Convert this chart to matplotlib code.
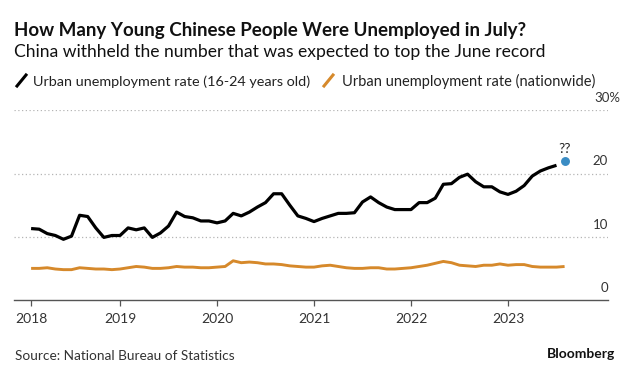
import matplotlib
matplotlib.use("Agg")
import matplotlib.pyplot as plt
from matplotlib.lines import Line2D

# ---- data (monthly) ----
youth_2018 = [11.3, 11.2, 10.5, 10.2, 9.6, 10.1, 13.4, 13.2, 11.4, 9.9, 10.2, 10.2]
youth_2019 = [11.4, 11.1, 11.4, 9.9, 10.6, 11.7, 13.9, 13.2, 13.0, 12.5, 12.5, 12.2]
youth_2020 = [12.5, 13.7, 13.3, 13.9, 14.7, 15.4, 16.8, 16.8, 15.0, 13.3, 12.9, 12.4]
youth_2021 = [12.9, 13.3, 13.7, 13.7, 13.8, 15.5, 16.3, 15.4, 14.7, 14.3, 14.3, 14.3]
youth_2022 = [15.4, 15.4, 16.1, 18.3, 18.4, 19.4, 19.9, 18.7, 17.9, 17.9, 17.1, 16.7]
youth_2023 = [17.2, 18.1, 19.6, 20.4, 20.9, 21.3]

nation_2018 = [5.0, 5.0, 5.1, 4.9, 4.8, 4.8, 5.1, 5.0, 4.9, 4.9, 4.8, 4.9]
nation_2019 = [5.1, 5.3, 5.2, 5.0, 5.0, 5.1, 5.3, 5.2, 5.2, 5.1, 5.1, 5.2]
nation_2020 = [5.3, 6.2, 5.9, 6.0, 5.9, 5.7, 5.7, 5.6, 5.4, 5.3, 5.2, 5.2]
nation_2021 = [5.4, 5.5, 5.3, 5.1, 5.0, 5.0, 5.1, 5.1, 4.9, 4.9, 5.0, 5.1]
nation_2022 = [5.3, 5.5, 5.8, 6.1, 5.9, 5.5, 5.4, 5.3, 5.5, 5.5, 5.7, 5.5]
nation_2023 = [5.6, 5.6, 5.3, 5.2, 5.2, 5.2, 5.3]

july_expected = 22.0   # the withheld July figure ("??")

years = [2018, 2019, 2020, 2021, 2022, 2023]
y_ticks = [0, 10, 20, 30]

youth = youth_2018 + youth_2019 + youth_2020 + youth_2021 + youth_2022 + youth_2023
nation = nation_2018 + nation_2019 + nation_2020 + nation_2021 + nation_2022 + nation_2023

# each month plotted at its month end
x_nation = [2018 + (i + 1) / 12 for i in range(len(nation))]
x_youth = x_nation[:len(youth)]

BLACK = "#000000"
ORANGE = "#d6892b"
BLUE = "#3a8cc4"
GRID = "#b5b5b5"
FONT = ["Lato", "DejaVu Sans"]

W, H = 635, 374
fig = plt.figure(figsize=(W / 100, H / 100), dpi=100)
plt.rcParams["font.family"] = FONT


def fx(px):
    return px / W


def fy(py):
    return 1 - py / H


ax = fig.add_axes([fx(14), fy(300), fx(608) - fx(14), fy(110.3) - fy(300)])
ax.set_xlim(2017.907, 2024.031)
ax.set_ylim(0, 30)

for v in y_ticks[1:]:
    ax.axhline(v, color=GRID, lw=0.9, ls=(0, (1, 2)), zorder=1)

ax.plot(x_nation, nation, color=ORANGE, lw=2.1, solid_capstyle="butt", zorder=3)
ax.plot(x_youth, youth, color=BLACK, lw=2.3, solid_capstyle="butt", zorder=4)
ax.plot([x_nation[-1]], [july_expected], "o", color=BLUE, ms=5.4, mec=BLUE, zorder=5)
ax.annotate("??", (x_nation[-1], july_expected), xytext=(0, 4), textcoords="offset points",
            ha="center", va="bottom", fontsize=10, color="#222222")

for s in ["top", "right", "left"]:
    ax.spines[s].set_visible(False)
ax.spines["bottom"].set_color("#555555")
ax.spines["bottom"].set_linewidth(1.0)
ax.set_yticks([])
ax.set_xticks([x_youth[0]] + years[1:])
ax.set_xticklabels([str(y) for y in years])
ax.tick_params(axis="x", length=4, width=0.9, color="#555555", pad=5.5,
               labelsize=10, labelcolor="#333333")

# value labels sit above the gridlines, right aligned; "%" hangs past the edge
for v in y_ticks[:-1]:
    ax.annotate(str(v), (1.0, v), xycoords=("axes fraction", "data"),
                xytext=(0, 4.5), textcoords="offset points",
                ha="right", va="bottom", fontsize=9.5, color="#333333")
ax.annotate(f"{y_ticks[-1]}%", (1.0, y_ticks[-1]), xycoords=("axes fraction", "data"),
            xytext=(8.6, 4.5), textcoords="offset points",
            ha="right", va="bottom", fontsize=9.5, color="#333333")

# header texts
title = fig.text(fx(14), fy(36), "How Many Young Chinese People Were Unemployed in July?",
                 fontsize=12, fontweight="bold", color="#111111", va="baseline")
subtitle = fig.text(fx(14), fy(57), "China withheld the number that was expected to top the June record",
                    fontsize=12, color="#111111", va="baseline")
leg1 = fig.text(fx(33), fy(86), "Urban unemployment rate (16-24 years old)",
                fontsize=10, color="#222222", va="baseline")
leg2 = fig.text(fx(342), fy(86), "Urban unemployment rate (nationwide)",
                fontsize=10, color="#222222", va="baseline")
fig.add_artist(Line2D([fx(17), fx(26)], [fy(86), fy(75)], color=BLACK, lw=2.2))
fig.add_artist(Line2D([fx(324), fx(333)], [fy(86), fy(75)], color=ORANGE, lw=2.2))

source = fig.text(fx(15), fy(360), "Source: National Bureau of Statistics",
                  fontsize=10, color="#333333", va="baseline")
brand = fig.text(fx(615), fy(358), "Bloomberg", fontsize=10, fontweight="bold",
                 color="#111111", va="baseline", ha="right")

# scale header fonts to the widths seen in the reference
fig.canvas.draw()
r = fig.canvas.get_renderer()
for t, w in [(title, 513), (subtitle, 528), (leg1, 278), (leg2, 253), (source, 219), (brand, 68)]:
    bb = t.get_window_extent(renderer=r)
    t.set_fontsize(t.get_fontsize() * w / bb.width)

fig.savefig("out.png", dpi=100, facecolor="white")
